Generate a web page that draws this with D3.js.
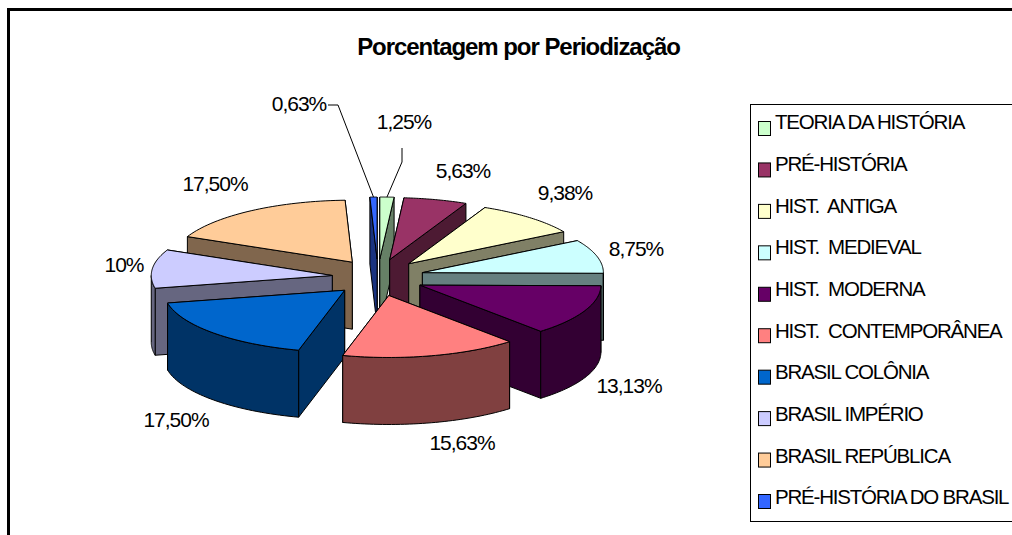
<!DOCTYPE html>
<html>
<head>
<meta charset="utf-8">
<script src="https://cdn.jsdelivr.net/npm/d3@7"></script>
<style>
    body { margin: 0; background: #fff; overflow: hidden; }
    text { font-family: "Liberation Sans", Arial, sans-serif; fill: #000; white-space: pre; }
</style>
</head>
<body>
<div id="chart"></div>
<script>
var categories = ["TEORIA DA HISTÓRIA", "PRÉ-HISTÓRIA", "HIST.  ANTIGA", "HIST.  MEDIEVAL", "HIST.  MODERNA",
    "HIST.  CONTEMPORÂNEA", "BRASIL COLÔNIA", "BRASIL IMPÉRIO", "BRASIL REPÚBLICA", "PRÉ-HISTÓRIA DO BRASIL"];
var values = [1.25, 5.63, 9.38, 8.75, 13.13, 15.63, 17.5, 10, 17.5, 0.63];
var valueLabels = ["1,25%", "5,63%", "9,38%", "8,75%", "13,13%", "15,63%", "17,50%", "10%", "17,50%", "0,63%"];
var colors = ["#CCFFCC", "#993366", "#FFFFCC", "#CCFFFF", "#660066", "#FF8080", "#0066CC", "#CCCCFF", "#FFCC99", "#3366FF"];
var titleText = "Porcentagem por Periodização";

var width = 1012, height = 535;

// pie geometry, an ellipse because of the 3d tilt
var center = {x: 378, y: 277.5};
var radius = {x: 181, y: 62};
var explode = {x: 46, y: 18.5};
var depth = 67;

// label centers were placed by hand in the original chart
var labelCenters = [[404, 121.5], [463, 170.5], [565, 192.5], [636, 248.5], [629, 385.5],
    [462, 442.5], [176, 419.5], [124, 264.5], [215, 183.5], [299, 103.5]];

var svg = d3.select("#chart").append("svg")
    .attr("width", width)
    .attr("height", height);

// frame
svg.append("path")
    .attr("d", "M8.5,535V9.5H1012")
    .attr("fill", "none")
    .attr("stroke", "#000")
    .attr("stroke-width", 3);

svg.append("text")
    .attr("x", 518.5)
    .attr("y", 55)
    .attr("text-anchor", "middle")
    .attr("font-size", 24)
    .attr("font-weight", "bold")
    .attr("letter-spacing", -1.05)
    .text(titleText);

var pie = d3.pie().sort(null).value(function(d) { return d; });
var slices = pie(values);

var line = d3.line().x(function(d) { return d[0]; }).y(function(d) { return d[1]; });

function point(d, angle, r, drop) {
    var mid = (d.startAngle + d.endAngle) / 2;
    return [
        center.x + explode.x * Math.sin(mid) + radius.x * r * Math.sin(angle),
        center.y - explode.y * Math.cos(mid) - radius.y * r * Math.cos(angle) + drop
    ];
}

function arcPoints(d, from, to, drop) {
    return d3.range(0, 1.0001, 1 / 40).map(function(t) {
        return point(d, from + t * (to - from), 1, drop);
    });
}

function sideWalls(d) {
    var apex = point(d, 0, 0, 0), apexLow = point(d, 0, 0, depth);
    var walls = [
        [apex, point(d, d.startAngle, 1, 0), point(d, d.startAngle, 1, depth), apexLow],
        [apex, point(d, d.endAngle, 1, 0), point(d, d.endAngle, 1, depth), apexLow]
    ];
    // the curved wall only shows on the front half of the ellipse
    var from = Math.max(d.startAngle, Math.PI / 2), to = Math.min(d.endAngle, Math.PI * 1.5);
    if (to > from) {
        walls.push(arcPoints(d, from, to, 0).concat(arcPoints(d, from, to, depth).reverse()));
    }
    // far walls first
    return walls.sort(function(a, b) {
        return d3.mean(a, function(p) { return p[1]; }) - d3.mean(b, function(p) { return p[1]; });
    });
}

// slices nearer to the viewer go on top
var drawOrder = slices.slice().sort(function(a, b) {
    return Math.cos((b.startAngle + b.endAngle) / 2) - Math.cos((a.startAngle + a.endAngle) / 2);
});

var slice = svg.selectAll(".slice")
    .data(drawOrder)
    .enter().append("g")
    .attr("class", "slice");

slice.selectAll(".wall")
    .data(function(d) {
        return sideWalls(d).map(function(w) { return {pts: w, color: colors[d.index]}; });
    })
    .enter().append("path")
    .attr("class", "wall")
    .attr("d", function(w) { return line(w.pts) + "Z"; })
    .attr("fill", function(w) {
        var c = d3.rgb(w.color);
        return d3.rgb(c.r / 2, c.g / 2, c.b / 2);
    })
    .attr("stroke", "#000")
    .attr("stroke-width", 1)
    .attr("stroke-linejoin", "round");

slice.append("path")
    .attr("class", "top")
    .attr("d", function(d) {
        return line([point(d, 0, 0, 0)].concat(arcPoints(d, d.startAngle, d.endAngle, 0))) + "Z";
    })
    .attr("fill", function(d) { return colors[d.index]; })
    .attr("stroke", "#000")
    .attr("stroke-width", 1)
    .attr("stroke-linejoin", "round");

// leader lines of the two small slices
var leaders = [
    {index: 0, from: [402, 148], bend: [402, 162]},
    {index: 9, from: [328, 105], bend: [338, 105]}
];

svg.selectAll(".leader")
    .data(leaders)
    .enter().append("path")
    .attr("class", "leader")
    .attr("fill", "none")
    .attr("stroke", "#000")
    .attr("stroke-width", 1)
    .attr("d", function(d) {
        var s = slices[d.index];
        return line([d.from, d.bend, point(s, (s.startAngle + s.endAngle) / 2, 1, 0)]);
    });

svg.selectAll(".value-label")
    .data(valueLabels)
    .enter().append("text")
    .attr("class", "value-label")
    .attr("x", function(d, i) { return labelCenters[i][0]; })
    .attr("y", function(d, i) { return labelCenters[i][1]; })
    .attr("dy", "0.36em")
    .attr("text-anchor", "middle")
    .attr("font-size", 21)
    .attr("letter-spacing", -1)
    .text(function(d) { return d; });

// legend
svg.append("rect")
    .attr("x", 750.5)
    .attr("y", 104.5)
    .attr("width", 270)
    .attr("height", 417)
    .attr("fill", "#fff")
    .attr("stroke", "#000")
    .attr("stroke-width", 1);

var legendTextY = d3.scalePoint()
    .domain(categories)
    .range([122, 497]);

var legendKeyY = d3.scalePoint()
    .domain(categories)
    .range([121, 494]);

svg.selectAll(".legend-key")
    .data(categories)
    .enter().append("rect")
    .attr("class", "legend-key")
    .attr("x", 758.5)
    .attr("y", function(d) { return legendKeyY(d) + 0.5; })
    .attr("width", 12)
    .attr("height", 14)
    .attr("fill", function(d, i) { return colors[i]; })
    .attr("stroke", "#000")
    .attr("stroke-width", 1);

svg.selectAll(".legend-text")
    .data(categories)
    .enter().append("text")
    .attr("class", "legend-text")
    .attr("x", 775)
    .attr("y", function(d) { return legendTextY(d); })
    .attr("dy", "0.36em")
    .attr("font-size", 20.5)
    .attr("letter-spacing", -1.2)
    .attr("word-spacing", 0)
    .text(function(d) { return d; });
</script>
</body>
</html>
